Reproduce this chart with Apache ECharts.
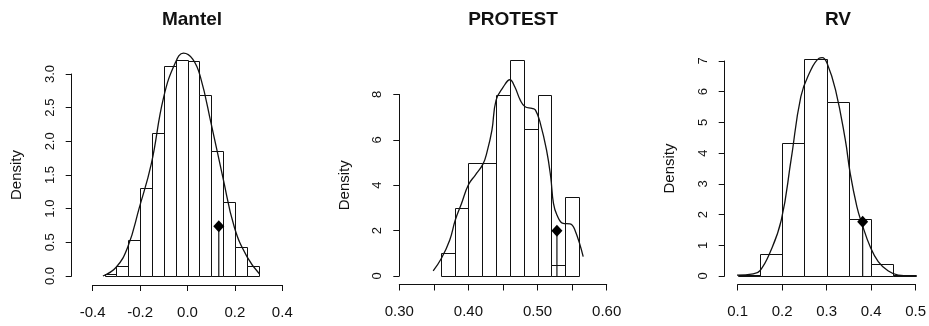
<!DOCTYPE html>
<html>
<head>
<meta charset="utf-8">
<script src="https://cdn.jsdelivr.net/npm/echarts@6/dist/echarts.min.js"></script>
<style>
  html, body { margin: 0; padding: 0; background: #fff; }
  #chart { width: 929px; height: 326px; }
</style>
</head>
<body>
<div id="chart"></div>
<script>
// panel titles
const titles = ['Mantel', 'PROTEST', 'RV'];

// Mantel histogram (density) and kernel curve
const mantelBreaks = [-0.35, -0.30, -0.25, -0.20, -0.15, -0.10, -0.05, 0.00, 0.05, 0.10, 0.15, 0.20, 0.25, 0.30];
const mantelDensity = [0.03, 0.15, 0.53, 1.30, 2.12, 3.12, 3.21, 3.19, 2.69, 1.86, 1.10, 0.43, 0.15];
const mantelCurveX = [-0.357, -0.301, -0.252, -0.203, -0.153, -0.101, -0.051, -0.017, 0.022, 0.055, 0.100, 0.149, 0.198, 0.252, 0.304];
const mantelCurveY = [0.00, 0.13, 0.43, 1.02, 1.66, 2.65, 3.17, 3.31, 3.22, 2.95, 2.26, 1.47, 0.72, 0.28, 0.03];
const mantelObs = [0.132, 0.74];
const mantelXTicks = ['-0.4', '-0.2', '0.0', '0.2', '0.4'];
const mantelYTicks = ['0.0', '0.5', '1.0', '1.5', '2.0', '2.5', '3.0'];

// PROTEST
const protestBreaks = [0.36, 0.38, 0.40, 0.42, 0.44, 0.46, 0.48, 0.50, 0.52, 0.54, 0.56];
const protestDensity = [1.0, 3.0, 5.0, 5.0, 8.0, 9.5, 6.5, 8.0, 0.5, 3.5];
const protestCurveX = [0.349, 0.361, 0.373, 0.381, 0.390, 0.400, 0.410, 0.421, 0.427, 0.434, 0.440, 0.450, 0.460, 0.467, 0.475, 0.482, 0.492, 0.497, 0.504, 0.513, 0.519, 0.523, 0.528, 0.537, 0.547, 0.554, 0.566];
const protestCurveY = [0.23, 0.78, 1.59, 2.47, 3.20, 4.02, 4.45, 4.93, 5.48, 6.43, 7.75, 8.31, 8.65, 8.34, 7.75, 7.46, 7.39, 7.31, 6.73, 5.55, 4.37, 3.20, 2.69, 2.32, 2.30, 2.03, 0.85];
const protestObs = [0.528, 2.0];
const protestXTicks = ['0.30', '', '0.40', '', '0.50', '', '0.60'];
const protestYTicks = ['0', '2', '4', '6', '8'];

// RV
const rvBreaks = [0.10, 0.15, 0.20, 0.25, 0.30, 0.35, 0.40, 0.45, 0.50];
const rvDensity = [0.03, 0.71, 4.34, 7.06, 5.65, 1.85, 0.38, 0.03];
const rvCurveX = [0.098, 0.135, 0.150, 0.172, 0.198, 0.220, 0.242, 0.261, 0.283, 0.290, 0.301, 0.320, 0.342, 0.353, 0.368, 0.379, 0.398, 0.416, 0.438, 0.461, 0.501];
const rvCurveY = [0.03, 0.07, 0.17, 0.74, 1.82, 3.78, 5.84, 6.60, 7.09, 7.11, 6.93, 6.06, 4.43, 3.34, 2.26, 1.72, 0.95, 0.47, 0.17, 0.03, 0.00];
const rvObs = [0.381, 1.77];
const rvXTicks = ['0.1', '0.2', '0.3', '0.4', '0.5'];
const rvYTicks = ['0', '1', '2', '3', '4', '5', '6', '7'];

const FONT = '"Liberation Sans", Arial, sans-serif';
const INK = '#111';

const panels = [
  { breaks: mantelBreaks, dens: mantelDensity, cx: mantelCurveX, cy: mantelCurveY, obs: mantelObs,
    xt: mantelXTicks, yt: mantelYTicks, xmin: -0.4, xmax: 0.4, xint: 0.2, ymax: 3.0, yint: 0.5,
    grid: { left: 92.7, width: 189.6, top: 74, height: 202 }, yOff: 21, xOff: 9, titleX: 187 },
  { breaks: protestBreaks, dens: protestDensity, cx: protestCurveX, cy: protestCurveY, obs: protestObs,
    xt: protestXTicks, yt: protestYTicks, xmin: 0.30, xmax: 0.60, xint: 0.05, ymax: 8, yint: 2,
    grid: { left: 399.3, width: 207.4, top: 94.5, height: 181.5 }, yOff: 0, xOff: 8.5, titleX: 508 },
  { breaks: rvBreaks, dens: rvDensity, cx: rvCurveX, cy: rvCurveY, obs: rvObs,
    xt: rvXTicks, yt: rvYTicks, xmin: 0.1, xmax: 0.5, xint: 0.1, ymax: 7, yint: 1,
    grid: { left: 737.7, width: 180, top: 61, height: 215 }, yOff: 13, xOff: 8.5, titleX: 833 }
];

const chart = echarts.init(document.getElementById('chart'), null, { renderer: 'canvas' });

const grids = [], xAxes = [], yAxes = [], series = [], titleOpts = [];

panels.forEach((p, i) => {
  grids.push(Object.assign({}, p.grid));
  titleOpts.push({
    text: titles[i], left: p.titleX, top: 5, textAlign: 'center',
    textStyle: { fontFamily: FONT, fontSize: 19, fontWeight: 'bold', color: INK }
  });
  xAxes.push({
    type: 'value', gridIndex: i, min: p.xmin, max: p.xmax, interval: p.xint, offset: p.xOff,
    axisLine: { onZero: false, lineStyle: { color: INK, width: 1 } },
    axisTick: { length: 6, lineStyle: { color: INK } },
    splitLine: { show: false },
    axisLabel: { fontFamily: FONT, fontSize: 15, color: INK, margin: 20,
      formatter: (v, idx) => p.xt[idx] ?? '' }
  });
  yAxes.push({
    type: 'value', gridIndex: i, min: 0, max: p.ymax, interval: p.yint, offset: p.yOff,
    name: 'Density', nameLocation: 'middle', nameGap: 47,
    nameTextStyle: { fontFamily: FONT, fontSize: 15, color: INK },
    axisLine: { show: true, onZero: false, lineStyle: { color: INK, width: 1 } },
    axisTick: { show: true, length: 6, lineStyle: { color: INK } },
    splitLine: { show: false },
    axisLabel: { fontFamily: FONT, fontSize: 13, color: INK, rotate: 90, margin: 15,
      formatter: (v, idx) => p.yt[idx] ?? '' }
  });

  // histogram bars
  series.push({
    type: 'custom', xAxisIndex: i, yAxisIndex: i, clip: false, silent: true,
    data: p.dens.map((d, k) => [p.breaks[k], p.breaks[k + 1], d]),
    encode: { x: [0, 1], y: 2 },
    renderItem: (params, api) => {
      const a = api.coord([api.value(0), api.value(2)]);
      const b = api.coord([api.value(1), 0]);
      const x0 = Math.round(a[0]) + 0.5, x1 = Math.round(b[0]) + 0.5;
      const y0 = Math.round(a[1]) + 0.5, y1 = Math.round(b[1]) + 0.5;
      return {
        type: 'rect',
        shape: { x: x0, y: y0, width: x1 - x0, height: y1 - y0 },
        style: { fill: '#fff', stroke: INK, lineWidth: 1 }
      };
    }
  });

  // density curve
  series.push({
    type: 'line', xAxisIndex: i, yAxisIndex: i, clip: false, silent: true,
    data: p.cx.map((x, k) => [x, p.cy[k]]),
    showSymbol: false, smooth: 0.45,
    lineStyle: { color: INK, width: 1.3 }, z: 3
  });

  // observed value: stem + diamond
  series.push({
    type: 'line', xAxisIndex: i, yAxisIndex: i, clip: false, silent: true,
    data: [[p.obs[0], 0], [p.obs[0], p.obs[1]]],
    showSymbol: false, lineStyle: { color: INK, width: 1.2 }, z: 3
  });
  series.push({
    type: 'scatter', xAxisIndex: i, yAxisIndex: i, clip: false, silent: true,
    data: [p.obs], symbol: 'diamond', symbolSize: [11, 12],
    itemStyle: { color: '#000', opacity: 1 }, z: 4
  });
});

chart.setOption({
  animation: false,
  backgroundColor: '#fff',
  title: titleOpts,
  grid: grids,
  xAxis: xAxes,
  yAxis: yAxes,
  series: series
});
</script>
</body>
</html>
